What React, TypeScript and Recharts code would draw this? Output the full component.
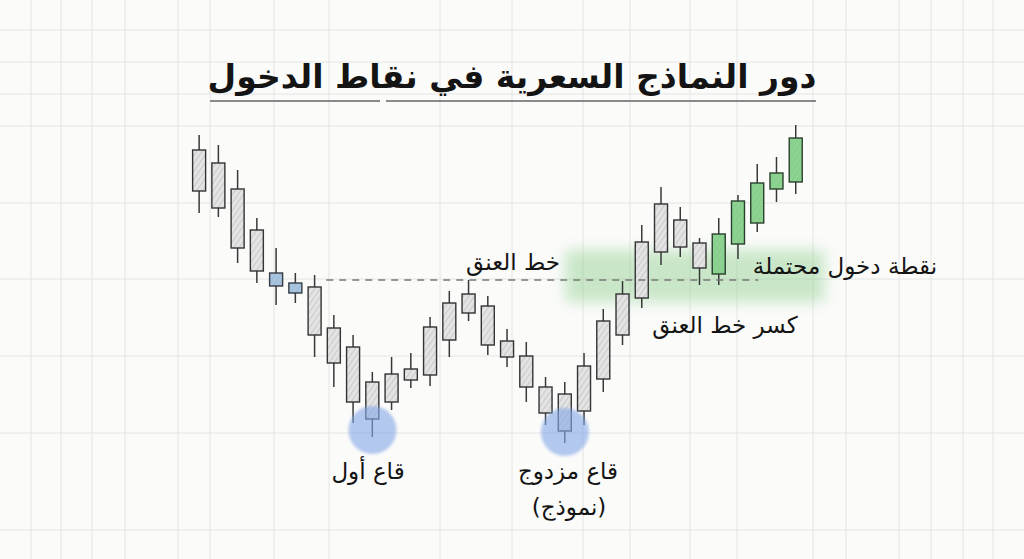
import React from "react";
import {
  ComposedChart,
  Bar,
  XAxis,
  YAxis,
  CartesianGrid,
  ReferenceLine,
  ReferenceArea,
  ReferenceDot,
} from "recharts";

// candle index along the session
const candles = [
  1, 2, 3, 4, 5, 6, 7, 8, 9, 10, 11, 12, 13, 14, 15, 16,
  17, 18, 19, 20, 21, 22, 23, 24, 25, 26, 27, 28, 29, 30, 31, 32,
];
const opens = [
  310, 297, 271, 230, 187, 177, 173, 132, 113, 78, 58, 80, 85, 120, 147, 154,
  119, 104, 73, 66, 49, 81, 125, 162, 208, 240, 217, 186, 216, 237, 271, 278,
];
const closes = [
  269, 252, 212, 189, 174, 167, 125, 97, 58, 41, 86, 91, 133, 157, 166, 115,
  103, 73, 47, 29, 94, 139, 166, 218, 256, 213, 192, 226, 259, 277, 287, 322,
];
const highs = [
  325, 315, 290, 242, 212, 187, 185, 145, 125, 88, 103, 107, 143, 169, 180, 164,
  131, 118, 83, 78, 107, 151, 179, 235, 273, 253, 222, 242, 265, 296, 303, 335,
];
const lows = [
  247, 243, 197, 177, 155, 157, 103, 73, 37, 23, 50, 72, 74, 103, 139, 105,
  93, 58, 35, 17, 35, 68, 115, 152, 195, 203, 175, 175, 201, 228, 258, 266,
];
// g = plain hatched, b = blue highlight, v = green (after breakout)
const tones = [
  "g", "g", "g", "g", "b", "b", "g", "g", "g", "g", "g", "g", "g", "g", "g", "g",
  "g", "g", "g", "g", "g", "g", "g", "g", "g", "g", "g", "v", "v", "v", "v", "v",
];

const neckline = 180;
const necklineFrom = 7.6;
const necklineTo = 30.05;
const entryZone = { x1: 20, x2: 33.5, y1: 158, y2: 210 };
const bottoms = [
  { x: 10, y: 30 },
  { x: 20, y: 28 },
];

const data = candles.map((i, k) => ({
  i,
  open: opens[k],
  close: closes[k],
  high: highs[k],
  low: lows[k],
  tone: tones[k],
  range: [lows[k], highs[k]],
}));

const FONT = "'DejaVu Sans', sans-serif";

const toneStyle: Record<string, { fill: string; stroke: string }> = {
  g: { fill: "url(#hatchGray)", stroke: "#333" },
  b: { fill: "url(#hatchBlue)", stroke: "#363b44" },
  v: { fill: "url(#hatchGreen)", stroke: "#2a402d" },
};

const Candle = (props: any) => {
  const { x, y, width, height, payload } = props;
  const top = Math.min(y, y + height);
  const h = Math.abs(height);
  const ratio = h / (payload.high - payload.low || 1);
  const bodyTop = top + (payload.high - Math.max(payload.open, payload.close)) * ratio;
  const bodyH = Math.max(2, Math.abs(payload.open - payload.close) * ratio);
  const cx = x + width / 2;
  const st = toneStyle[payload.tone];
  return (
    <g>
      <line x1={cx} x2={cx} y1={top} y2={top + h} stroke="#383838" strokeWidth={1.5} />
      <rect
        x={x}
        y={bodyTop}
        width={width}
        height={bodyH}
        fill={st.fill}
        stroke={st.stroke}
        strokeWidth={1.4}
      />
    </g>
  );
};

const Glow = (props: any) => {
  const { x, y, width, height } = props;
  return (
    <rect
      x={x}
      y={y}
      width={width}
      height={height}
      fill="#8ccf8c"
      fillOpacity={0.45}
      filter="url(#soft)"
    />
  );
};

const label = (text: string, left: number, top: number, size: number, weight = 400) => (
  <div
    dir="rtl"
    style={{
      position: "absolute",
      left,
      top,
      transform: "translate(-50%, -50%)",
      fontFamily: FONT,
      fontSize: size,
      fontWeight: weight,
      color: "#141414",
      whiteSpace: "nowrap",
      lineHeight: 1,
    }}
  >
    {text}
  </div>
);

export default function App() {
  return (
    <div
      style={{
        position: "absolute",
        left: 0,
        top: 0,
        width: 1024,
        height: 559,
        background: "#fbfbfa",
        overflow: "hidden",
      }}
    >
      <ComposedChart
        width={1024}
        height={559}
        data={data}
        margin={{ top: 0, right: 0, bottom: 0, left: 0 }}
      >
        <defs>
          <pattern id="hatchGray" width="4.5" height="4.5" patternUnits="userSpaceOnUse" patternTransform="rotate(35)">
            <rect width="4.5" height="4.5" fill="#e3e3e3" />
            <line x1="0" y1="0" x2="0" y2="4.5" stroke="#b0b0b0" strokeWidth="1" />
          </pattern>
          <pattern id="hatchBlue" width="4.5" height="4.5" patternUnits="userSpaceOnUse" patternTransform="rotate(35)">
            <rect width="4.5" height="4.5" fill="#a8c4de" />
            <line x1="0" y1="0" x2="0" y2="4.5" stroke="#9ab5cf" strokeWidth="1" />
          </pattern>
          <pattern id="hatchGreen" width="4.5" height="4.5" patternUnits="userSpaceOnUse" patternTransform="rotate(35)">
            <rect width="4.5" height="4.5" fill="#8cd392" />
            <line x1="0" y1="0" x2="0" y2="4.5" stroke="#80c486" strokeWidth="1" />
          </pattern>
          <filter id="soft" x="-20%" y="-60%" width="140%" height="220%">
            <feGaussianBlur stdDeviation="7" />
          </filter>
          <filter id="softDot" x="-30%" y="-30%" width="160%" height="160%">
            <feGaussianBlur stdDeviation="1.5" />
          </filter>
        </defs>
        <CartesianGrid
          stroke="#e4e4e4"
          strokeWidth={1}
          horizontalPoints={[30, 62, 94, 126, 203, 279, 356, 433, 530]}
          verticalPoints={[31, 61, 92, 125, 178, 210, 274, 329, 440, 512, 583, 630, 690, 737, 813, 846, 899, 931, 963, 993]}
        />
        <XAxis type="number" dataKey="i" domain={[-9.353, 43.855]} hide allowDataOverflow />
        <YAxis type="number" domain={[-99, 460]} hide allowDataOverflow />
        <ReferenceArea
          x1={entryZone.x1}
          x2={entryZone.x2}
          y1={entryZone.y1}
          y2={entryZone.y2}
          shape={<Glow />}
          ifOverflow="visible"
        />
        <ReferenceLine
          segment={[
            { x: necklineFrom, y: neckline },
            { x: necklineTo, y: neckline },
          ]}
          stroke="#777"
          strokeWidth={1.4}
          strokeDasharray="7 6"
        />
        <Bar dataKey="range" barSize={13} shape={<Candle />} isAnimationActive={false} />
        {bottoms.map((p, k) => (
          <ReferenceDot
            key={k}
            x={p.x}
            y={p.y}
            r={24}
            fill="#84a8e6"
            fillOpacity={0.62}
            stroke="none"
            filter="url(#softDot)"
          />
        ))}
      </ComposedChart>

      {label("دور النماذج السعرية في نقاط الدخول", 512, 76, 33, 700)}
      <div style={{ position: "absolute", left: 210, top: 100, width: 170, height: 2, background: "#8a8a8a" }} />
      <div style={{ position: "absolute", left: 386, top: 100, width: 430, height: 2, background: "#8a8a8a" }} />

      {label("خط العنق", 513, 262, 23)}
      {label("نقطة دخول محتملة", 845, 266, 23)}
      {label("كسر خط العنق", 725, 325, 23)}
      {label("قاع أول", 368, 471, 23)}
      {label("قاع مزدوج", 568, 471, 23)}
      {label("(نموذج)", 569, 507, 23)}
    </div>
  );
}
